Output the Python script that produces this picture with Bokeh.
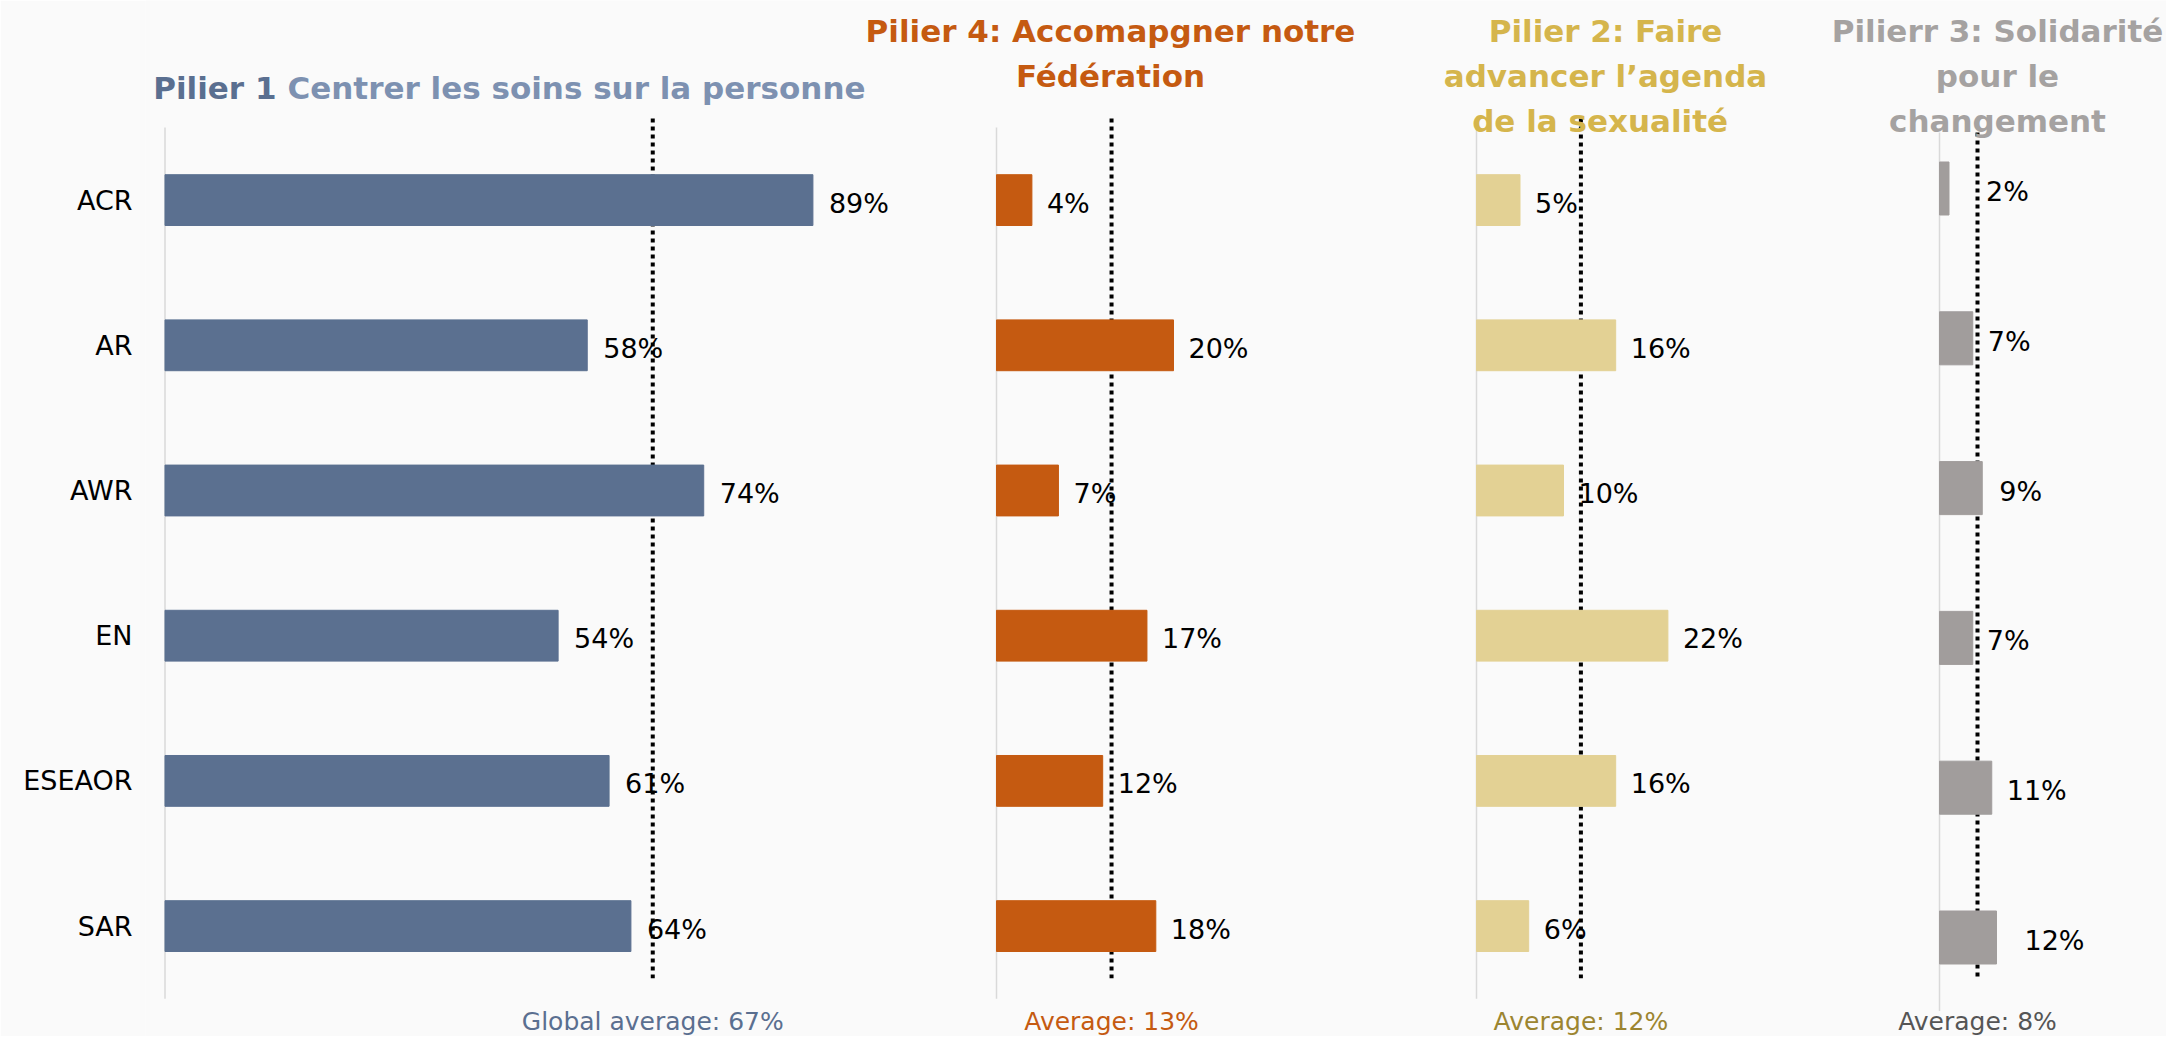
from bokeh.plotting import figure
from bokeh.models import Range1d, FixedTicker, ColumnDataSource
from bokeh.core.properties import value
from bokeh.embed import file_html
from bokeh.resources import INLINE

# ---------------- data ----------------
regions = ["ACR", "AR", "AWR", "EN", "ESEAOR", "SAR"]
pilier1_pct = [89, 58, 74, 54, 61, 64]
pilier4_pct = [4, 20, 7, 17, 12, 18]
pilier2_pct = [5, 16, 10, 22, 16, 6]
pilier3_pct = [2, 7, 9, 7, 11, 12]
avg_p1, avg_p4, avg_p2, avg_p3 = 67, 13, 12, 8
avg_label_p1 = "Global average: 67%"
avg_label_p4 = "Average: 13%"
avg_label_p2 = "Average: 12%"
avg_label_p3 = "Average: 8%"

title1_parts = ["Pilier 1", "Centrer les soins sur la personne"]
title4_lines = ["Pilier 4: Accomapgner notre", "Fédération"]
title2_lines = ["Pilier 2: Faire", "advancer l\u2019agenda", "de la  sexualit\u00e9"]
title3_lines = ["Pilierr 3: Solidarit\u00e9", "pour le", "changement"]

# ---------------- layout (page pixels) ----------------
W, H = 2166, 1036
FL, FR, FT, FB = 145, W, 0, H
BG = "#fafafa"
FONT = value("DejaVu Sans")


def xr(origin_px, px_per_unit):
    return Range1d(start=(FL - origin_px) / px_per_unit, end=(FR - origin_px) / px_per_unit)


def yr(first_center_px, px_per_band):
    return Range1d(start=(FB - first_center_px) / px_per_band, end=(FT - first_center_px) / px_per_band)


p = figure(width=W, height=H, x_range=xr(164.5, 7.28), y_range=yr(199.6, 145.2),
           output_backend="svg", toolbar_location=None, x_axis_location=None, title=None,
           min_border_left=FL, min_border_right=0, min_border_top=0, min_border_bottom=0,
           background_fill_color=BG, border_fill_color=BG, outline_line_color=None)
p.extra_x_ranges = {"p4": xr(996, 8.85), "p2": xr(1476, 8.7), "p3": xr(1939, 4.75),
                    "px": Range1d(FL, FR)}
p.extra_y_ranges = {"gray": yr(188, 149.8), "py": Range1d(FB, FT)}
p.xgrid.grid_line_color = None
p.ygrid.grid_line_color = None

ax = p.yaxis[0]
ax.ticker = FixedTicker(ticks=list(range(len(regions))))
ax.major_label_overrides = {i: r for i, r in enumerate(regions)}
ax.axis_line_color = None
ax.major_tick_line_color = None
ax.minor_tick_line_color = None
ax.major_tick_out = 0
ax.major_label_standoff = 13
ax.major_label_text_font = "DejaVu Sans"
ax.major_label_text_font_size = "27px"
ax.major_label_text_color = "#000000"

ys = list(range(len(regions)))

panels = [
    dict(vals=pilier1_pct, avg=avg_p1, avg_label=avg_label_p1, xn="default", yn="default",
         color="#5b7090", avg_color="#5a6f90", h=0.35, axis_y=(-0.5, 5.5), dash_y=(-0.562, 5.36),
         offs=[16] * 6),
    dict(vals=pilier4_pct, avg=avg_p4, avg_label=avg_label_p4, xn="p4", yn="default",
         color="#c55a11", avg_color="#c55a11", h=0.35, axis_y=(-0.5, 5.5), dash_y=(-0.562, 5.36),
         offs=[15] * 6),
    dict(vals=pilier2_pct, avg=avg_p2, avg_label=avg_label_p2, xn="p2", yn="default",
         color="#e3d194", avg_color="#9c8530", h=0.35, axis_y=(-0.5, 5.5), dash_y=(-0.562, 5.36),
         offs=[15] * 6),
    dict(vals=pilier3_pct, avg=avg_p3, avg_label=avg_label_p3, xn="p3", yn="gray",
         color="#a19d9c", avg_color="#555555", h=0.354, axis_y=(-0.374, 5.49), dash_y=(-0.374, 5.27),
         offs=[37, 15, 17, 14, 15, 28]),
]

for pn in panels:
    kw = dict(x_range_name=pn["xn"], y_range_name=pn["yn"])
    p.segment(x0=[0], x1=[0], y0=[pn["axis_y"][0]], y1=[pn["axis_y"][1]],
              line_color="#d9d9d9", line_width=1.5, **kw)
    p.segment(x0=[pn["avg"]], x1=[pn["avg"]], y0=[pn["dash_y"][0]], y1=[pn["dash_y"][1]],
              line_color="#000000", line_width=4, line_dash="4 4", **kw)
    src = ColumnDataSource(dict(y=ys, v=pn["vals"], lab=[f"{v}%" for v in pn["vals"]], off=pn["offs"]))
    p.hbar(y="y", left=0, right="v", height=pn["h"], fill_color=pn["color"],
           line_color=pn["color"], source=src, **kw)
    p.text(x="v", y="y", text="lab", x_offset="off", y_offset=3, text_baseline="middle",
           text_align="left", text_font=FONT, text_font_size="27px", text_color="#000000",
           source=src, **kw)
    p.text(x=[pn["avg"]], y=[1021], text=[pn["avg_label"]], text_align="center",
           text_baseline="middle", text_font=FONT, text_font_size="25px",
           text_color=pn["avg_color"], x_range_name=pn["xn"], y_range_name="py")

# ---------------- titles ----------------
tkw = dict(x_range_name="px", y_range_name="py", text_font=FONT, text_font_style="bold",
           text_font_size="31px", text_baseline="middle")
p.text(x=[276], y=[87], text=[title1_parts[0]], text_align="right", text_color="#5a6f90", **tkw)
p.text(x=[287], y=[87], text=[title1_parts[1]], text_align="left", text_color="#7d91b1", **tkw)
centers_y = [30, 75, 120]
for lines, cx, col in [(title4_lines, 1110, "#c55a11"), (title2_lines, 1605, "#d5b54c"),
                       (title3_lines, 1997, "#a5a2a1")]:
    p.text(x=[cx] * len(lines), y=centers_y[:len(lines)], text=lines, text_align="center",
           text_color=col, **tkw)

open("out.html", "w").write(file_html(p, INLINE))
